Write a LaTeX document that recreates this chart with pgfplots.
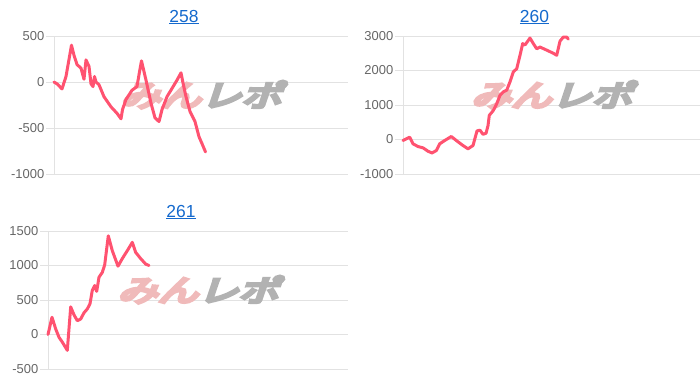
\documentclass[border=0pt]{standalone}
\usepackage{pgfplots}
\pgfplotsset{compat=1.18}
\usepackage{fontspec}
\setmainfont{Liberation Sans}
\newfontfamily\wm[FakeSlant=0.25,FakeBold=10]{Noto Sans CJK JP}
\definecolor{linec}{RGB}{255,82,112}
\definecolor{gridc}{RGB}{226,226,226}
\definecolor{labelc}{RGB}{102,102,102}
\definecolor{titlec}{RGB}{20,105,205}
\definecolor{wmpink}{RGB}{240,186,186}
\definecolor{wmgray}{RGB}{178,178,178}
\pgfplotsset{
  panel/.style={
    scale only axis, anchor=south west, height=138bp, xmin=0,
    xtick=\empty, axis x line=none, axis y line*=left,
    axis line style={draw=gridc, line width=0.8bp},
    ymajorgrids, grid style={draw=gridc, line width=0.8bp},
    major tick length=8bp, tick align=outside,
    ytick style={draw=gridc, line width=0.8bp},
    yticklabel style={font=\fontsize{13}{15}\selectfont, text=labelc, inner sep=1.5bp},
    title style={font=\fontsize{17.5}{19}\selectfont, text=titlec, at={(0.5,1)}, anchor=center, yshift=13bp, xshift=-17bp},
    clip=false,
  },
  dline/.style={draw=linec, line width=3bp, line join=round, line cap=round, mark=none},
}
\newcommand{\watermark}{\node[inner sep=0, xscale=1.35] at (rel axis cs:0.5,0.575) {\wm\fontsize{30}{30}\selectfont\textcolor{wmpink}{みん}\textcolor{wmgray}{レポ}};}
\begin{document}
\begin{tikzpicture}
\path[use as bounding box] (0,0) rectangle (700bp,382bp);
% ---- 258 ----
\begin{axis}[panel, at={(54bp,208bp)}, width=294bp, xmax=294,
  ymin=-1000, ymax=500, ytick={-1000,-500,0,500}, yticklabels={-1000,-500,0,500},
  title={\underline{258}}]
\watermark
\addplot[dline] coordinates {
(0,0) (3,-20) (8,-75) (12,60) (17.5,400) (20,290) (23,190) (27,150) (30,30)
(32,240) (35,170) (37,-20) (39,-50) (40.5,60) (42,0) (45,-30) (50,-160)
(57,-270) (63,-340) (67,-400) (68.5,-300) (72,-190) (78,-90) (83,-50) (85,80)
(87.5,230) (92,20) (97,-230) (101,-390) (105,-430) (108,-300) (113,-160)
(118,-70) (123,20) (127,100) (129,-10) (132,-160) (136,-320) (141,-430)
(145,-595) (148,-670) (151.5,-760)
};
\end{axis}
% ---- 260 ----
\begin{axis}[panel, at={(403bp,208bp)}, width=297bp, xmax=297,
  ymin=-1000, ymax=3000, ytick={-1000,0,1000,2000,3000}, yticklabels={-1000,0,1000,2000,3000},
  title={\underline{260}}]
\watermark
\addplot[dline] coordinates {
(0,-29) (6.7,67) (10,-125) (15,-204) (20,-242) (25,-340) (29,-390) (33.3,-320)
(36.7,-125) (41.7,-29) (48.3,87) (53.3,-29) (60,-175) (65,-270) (70,-175)
(74,250) (77,270) (80,150) (83,180) (85,400) (86.3,700) (90.3,840) (93.7,1035)
(97,1280) (100.3,1380) (103.7,1430) (107,1670) (110.3,1960) (113.7,2050)
(117,2440) (119.7,2780) (122,2740) (127,2940) (130.3,2780) (133.7,2630)
(137,2680) (143.7,2590) (150.3,2500) (153.7,2440) (157,2850) (160.3,2970)
(163.7,2970) (165.3,2910)
};
\end{axis}
% ---- 261 ----
\begin{axis}[panel, at={(48bp,13bp)}, width=300bp, xmax=300,
  ymin=-500, ymax=1500, ytick={-500,0,500,1000,1500}, yticklabels={-500,0,500,1000,1500},
  title={\underline{261}}]
\watermark
\addplot[dline] coordinates {
(0,0) (4,250) (7.7,80) (11,-40) (14.3,-110) (19.3,-230) (22.7,400) (26,285)
(29.3,200) (32.7,225) (36,315) (39.3,370) (42,445) (44.3,640) (46.7,710)
(48.7,625) (51,830) (54.3,900) (56.7,1010) (60.3,1430) (64.3,1215) (70,990)
(74.3,1100) (79.3,1215) (84.3,1335) (87.7,1190) (92.7,1100) (97.7,1020) (101,1000)
};
\end{axis}
\end{tikzpicture}
\end{document}
